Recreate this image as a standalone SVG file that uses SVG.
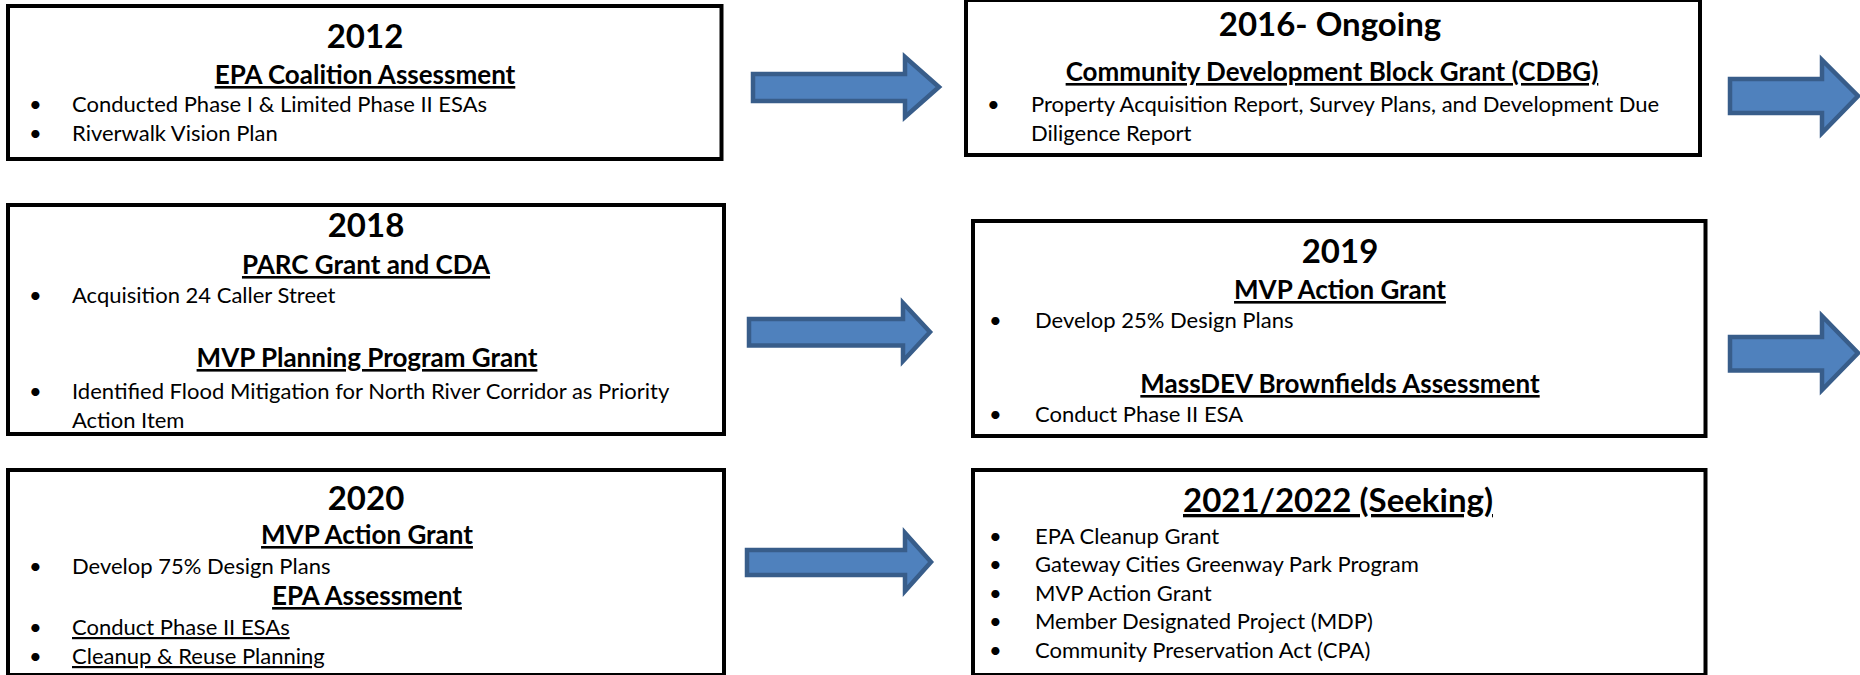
<svg xmlns="http://www.w3.org/2000/svg" width="1860" height="675" viewBox="0 0 1860 675">
<style>
.box{fill:#fff;stroke:#000;stroke-width:4}
.yr{font-family:Lato,"Open Sans",sans-serif;font-weight:700;font-size:33px;text-anchor:middle;fill:#000}
.hd{font-family:Lato,"Open Sans",sans-serif;font-weight:700;font-size:26px;text-anchor:middle;fill:#000;text-decoration:underline}
.bt{font-family:Lato,"Open Sans",sans-serif;font-size:22px;fill:#000}
.u{text-decoration:underline}
.arr{fill:#4F81BD;stroke:#385D8A;stroke-width:4.5;stroke-linejoin:miter}
</style>
<g id="connectors">
<path class="arr" d="M753,74 H905 V57 L939,87 L905,117 V101 H753 Z"/>
<path class="arr" d="M749,319 H903 V303 L930,332 L903,361 V345.5 H749 Z"/>
<path class="arr" d="M747,550 H905 V533 L931,562 L905,591 V575 H747 Z"/>
<path class="arr" d="M1730,79 H1822 V60 L1858,96 L1822,133 V113 H1730 Z"/>
<path class="arr" d="M1730,337 H1822 V316 L1858,353 L1822,390 V370.5 H1730 Z"/>
</g>
<g id="n2012">
<rect class="box" x="8" y="6" width="713.5" height="153"/>
<text class="yr" x="365" y="48">2012</text>
<text class="hd" x="365" y="84">EPA Coalition Assessment</text>
<text class="bt" x="29" y="112">•</text>
<text class="bt" x="72" y="112">Conducted Phase I &amp; Limited Phase II ESAs</text>
<text class="bt" x="29" y="141">•</text>
<text class="bt" x="72" y="141">Riverwalk Vision Plan</text>
</g>
<g id="n2016">
<rect class="box" x="966" y="0" width="734" height="155"/>
<text class="yr" x="1330" y="36">2016- Ongoing</text>
<text class="hd" x="1332" y="81">Community Development Block Grant (CDBG)</text>
<text class="bt" x="987" y="112">•</text>
<text class="bt" x="1031" y="112">Property Acquisition Report, Survey Plans, and Development Due</text>
<text class="bt" x="1031" y="141">Diligence Report</text>
</g>
<g id="n2018">
<rect class="box" x="8" y="205" width="716" height="229"/>
<text class="yr" x="366" y="237">2018</text>
<text class="hd" x="366" y="274">PARC Grant and CDA</text>
<text class="bt" x="29" y="303">•</text>
<text class="bt" x="72" y="303">Acquisition 24 Caller Street</text>
<text class="hd" x="367" y="367">MVP Planning Program Grant</text>
<text class="bt" x="29" y="399">•</text>
<text class="bt" x="72" y="399">Identified Flood Mitigation for North River Corridor as Priority</text>
<text class="bt" x="72" y="428">Action Item</text>
</g>
<g id="n2019">
<rect class="box" x="973" y="221" width="732.5" height="215"/>
<text class="yr" x="1340" y="263">2019</text>
<text class="hd" x="1340" y="299">MVP Action Grant</text>
<text class="bt" x="989" y="328">•</text>
<text class="bt" x="1035" y="328">Develop 25% Design Plans</text>
<text class="hd" x="1340" y="393">MassDEV Brownfields Assessment</text>
<text class="bt" x="989" y="422">•</text>
<text class="bt" x="1035" y="422">Conduct Phase II ESA</text>
</g>
<g id="n2020">
<rect class="box" x="8" y="470" width="716" height="205"/>
<text class="yr" x="366" y="510">2020</text>
<text class="hd" x="367" y="544">MVP Action Grant</text>
<text class="bt" x="29" y="574">•</text>
<text class="bt" x="72" y="574">Develop 75% Design Plans</text>
<text class="hd" x="367" y="605">EPA Assessment</text>
<text class="bt" x="29" y="635">•</text>
<text class="bt u" x="72" y="635">Conduct Phase II ESAs</text>
<text class="bt" x="29" y="664">•</text>
<text class="bt u" x="72" y="664">Cleanup &amp; Reuse Planning</text>
</g>
<g id="n2021">
<rect class="box" x="973" y="470" width="732.5" height="205"/>
<text class="yr u" x="1338" y="512">2021/2022 (Seeking)</text>
<text class="bt" x="989" y="544">•</text>
<text class="bt" x="1035" y="544">EPA Cleanup Grant</text>
<text class="bt" x="989" y="572">•</text>
<text class="bt" x="1035" y="572">Gateway Cities Greenway Park Program</text>
<text class="bt" x="989" y="601">•</text>
<text class="bt" x="1035" y="601">MVP Action Grant</text>
<text class="bt" x="989" y="629">•</text>
<text class="bt" x="1035" y="629">Member Designated Project (MDP)</text>
<text class="bt" x="989" y="658">•</text>
<text class="bt" x="1035" y="658">Community Preservation Act (CPA)</text>
</g>
</svg>
